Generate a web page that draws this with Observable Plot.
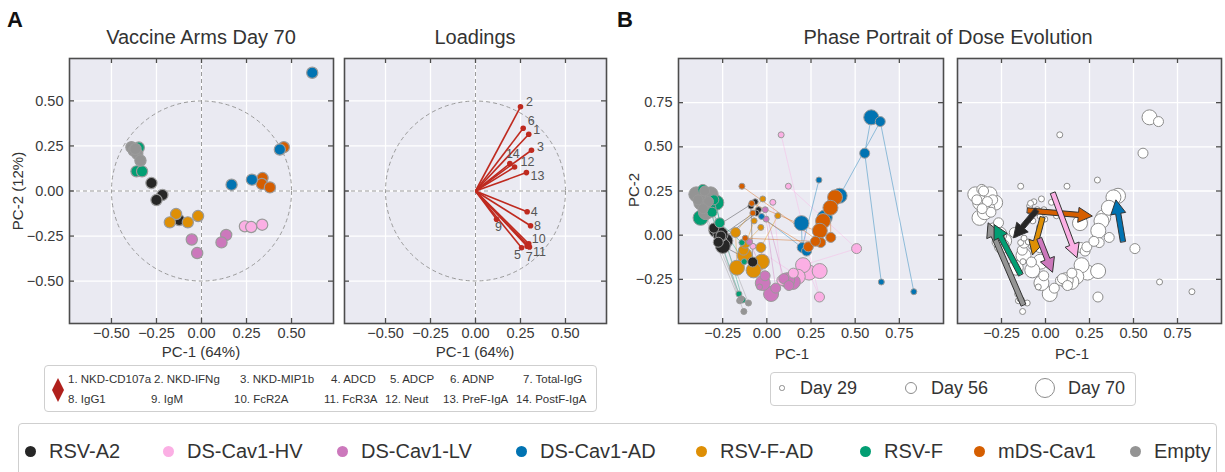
<!DOCTYPE html>
<html>
<head>
<meta charset="utf-8">
<script src="https://cdn.jsdelivr.net/npm/d3@7"></script>
<script src="https://cdn.jsdelivr.net/npm/@observablehq/plot@0.6"></script>
<style>
  html, body { margin: 0; padding: 0; background: #fff; }
  #root { position: relative; width: 1225px; height: 472px; overflow: hidden;
          font-family: "Liberation Sans", Arial, Helvetica, sans-serif; color: #333; }
  .abs { position: absolute; white-space: nowrap; line-height: 1; }
  .box { position: absolute; border: 1px solid #cfcfcf; border-radius: 4px; box-sizing: border-box; background: #fff; }
</style>
</head>
<body>
<div id="root"></div>
<script>
// ---------------- DATA ----------------
const groups = ["RSV-A2", "DS-Cav1-HV", "DS-Cav1-LV", "DS-Cav1-AD", "RSV-F-AD", "RSV-F", "mDS-Cav1", "Empty"];
const groupColors = ["#262626", "#fbafe4", "#cc78bc", "#0173b2", "#de8f05", "#029e73", "#d55e00", "#949494"];

const ticksA = [-0.5, -0.25, 0, 0.25, 0.5];
const ticksB = [-0.25, 0, 0.25, 0.5, 0.75];

// Panel A: Day 70 PCA scores [group, PC-1, PC-2]
const armsDay70 = [
  ["RSV-F", -0.348, 0.241], ["RSV-F", -0.361, 0.109], ["RSV-F", -0.330, 0.109],
  ["Empty", -0.389, 0.243], ["Empty", -0.376, 0.224], ["Empty", -0.357, 0.206], ["Empty", -0.339, 0.169], ["Empty", -0.367, 0.233],
  ["RSV-A2", -0.278, 0.044], ["RSV-A2", -0.217, -0.022], ["RSV-A2", -0.250, -0.050], ["RSV-A2", -0.124, -0.161],
  ["RSV-F-AD", -0.141, -0.128], ["RSV-F-AD", -0.176, -0.174], ["RSV-F-AD", -0.076, -0.174], ["RSV-F-AD", -0.019, -0.139],
  ["DS-Cav1-LV", -0.054, -0.269], ["DS-Cav1-LV", -0.024, -0.344], ["DS-Cav1-LV", 0.137, -0.244], ["DS-Cav1-LV", 0.111, -0.285],
  ["DS-Cav1-HV", 0.241, -0.196], ["DS-Cav1-HV", 0.276, -0.200], ["DS-Cav1-HV", 0.337, -0.187],
  ["mDS-Cav1", 0.457, 0.243], ["mDS-Cav1", 0.339, 0.072], ["mDS-Cav1", 0.335, 0.039], ["mDS-Cav1", 0.380, 0.020],
  ["DS-Cav1-AD", 0.615, 0.656], ["DS-Cav1-AD", 0.435, 0.230], ["DS-Cav1-AD", 0.167, 0.035], ["DS-Cav1-AD", 0.280, 0.063]
];

// Loadings
const loadingNames = ["NKD-CD107a", "NKD-IFNg", "NKD-MIP1b", "ADCD", "ADCP", "ADNP", "Total-IgG",
                      "IgG1", "IgM", "FcR2A", "FcR3A", "Neut", "PreF-IgA", "PostF-IgA"];
const loadingPC1 = [0.296, 0.250, 0.311, 0.287, 0.256, 0.265, 0.287, 0.306, 0.117, 0.296, 0.300, 0.217, 0.283, 0.191];
const loadingPC2 = [0.315, 0.467, 0.226, -0.115, -0.315, 0.348, -0.306, -0.193, -0.157, -0.293, -0.311, 0.133, 0.102, 0.152];
const unitCircle = [{pc1: 0, pc2: 0, radius: 0.5}];

// Panel B: per-animal scores [group, animal, PC-1, PC-2]
const phaseDay29 = [
  ["RSV-A2", "A2-1", -0.066, 0.189], ["RSV-A2", "A2-2", -0.047, 0.144], ["RSV-A2", "A2-3", -0.090, 0.165], ["RSV-A2", "A2-4", -0.060, 0.125],
  ["DS-Cav1-HV", "HV-1", 0.081, 0.568], ["DS-Cav1-HV", "HV-2", 0.122, 0.277], ["DS-Cav1-HV", "HV-3", 0.034, 0.186], ["DS-Cav1-HV", "HV-4", -0.079, -0.063],
  ["DS-Cav1-LV", "LV-1", -0.009, 0.144], ["DS-Cav1-LV", "LV-2", -0.004, 0.091], ["DS-Cav1-LV", "LV-3", -0.098, -0.038], ["DS-Cav1-LV", "LV-4", -0.041, -0.293],
  ["DS-Cav1-AD", "AD-1", 0.648, -0.265], ["DS-Cav1-AD", "AD-2", 0.832, -0.320], ["DS-Cav1-AD", "AD-3", 0.295, 0.312], ["DS-Cav1-AD", "AD-4", -0.030, 0.106],
  ["RSV-F-AD", "FAD-1", -0.023, 0.205], ["RSV-F-AD", "FAD-2", 0.062, 0.110], ["RSV-F-AD", "FAD-3", -0.072, 0.081], ["RSV-F-AD", "FAD-4", -0.034, 0.044],
  ["RSV-F", "F-1", -0.141, -0.042], ["RSV-F", "F-2", -0.128, -0.150], ["RSV-F", "F-3", -0.158, -0.333], ["RSV-F", "F-4", -0.137, -0.367],
  ["mDS-Cav1", "M-1", -0.141, 0.277], ["mDS-Cav1", "M-2", -0.085, 0.180], ["mDS-Cav1", "M-3", -0.079, 0.125], ["mDS-Cav1", "M-4", -0.122, -0.017],
  ["Empty", "E-1", -0.154, -0.371], ["Empty", "E-2", -0.104, -0.384], ["Empty", "E-3", -0.130, -0.432], ["Empty", "E-4", -0.145, -0.360]
];
const phaseDay56 = [
  ["RSV-A2", "A2-1", -0.300, 0.040], ["RSV-A2", "A2-2", -0.260, -0.005], ["RSV-A2", "A2-3", -0.080, -0.152], ["RSV-A2", "A2-4", -0.275, -0.040],
  ["DS-Cav1-HV", "HV-1", 0.298, -0.350], ["DS-Cav1-HV", "HV-2", 0.508, -0.076], ["DS-Cav1-HV", "HV-3", 0.085, -0.256], ["DS-Cav1-HV", "HV-4", 0.150, -0.215],
  ["DS-Cav1-LV", "LV-1", 0.096, -0.246], ["DS-Cav1-LV", "LV-2", 0.050, -0.300], ["DS-Cav1-LV", "LV-3", -0.010, -0.230], ["DS-Cav1-LV", "LV-4", 0.125, -0.285],
  ["DS-Cav1-AD", "AD-1", 0.554, 0.464], ["DS-Cav1-AD", "AD-2", 0.642, 0.643], ["DS-Cav1-AD", "AD-3", 0.200, -0.070], ["DS-Cav1-AD", "AD-4", 0.225, -0.090],
  ["RSV-F-AD", "FAD-1", -0.177, 0.015], ["RSV-F-AD", "FAD-2", -0.034, -0.070], ["RSV-F-AD", "FAD-3", -0.132, -0.085], ["RSV-F-AD", "FAD-4", -0.122, -0.045],
  ["RSV-F", "F-1", -0.267, 0.070], ["RSV-F", "F-2", -0.310, 0.130], ["RSV-F", "F-3", -0.362, 0.259], ["RSV-F", "F-4", -0.300, 0.200],
  ["mDS-Cav1", "M-1", 0.305, -0.042], ["mDS-Cav1", "M-2", 0.362, -0.013], ["mDS-Cav1", "M-3", 0.235, -0.066], ["mDS-Cav1", "M-4", 0.275, -0.035],
  ["Empty", "E-1", -0.352, 0.250], ["Empty", "E-2", -0.330, 0.190], ["Empty", "E-3", -0.390, 0.200], ["Empty", "E-4", -0.360, 0.150]
];
const phaseDay70 = [
  ["RSV-A2", "A2-1", -0.286, 0.028], ["RSV-A2", "A2-2", -0.235, -0.032], ["RSV-A2", "A2-3", -0.249, -0.061], ["RSV-A2", "A2-4", -0.262, 0.005],
  ["DS-Cav1-HV", "HV-1", 0.239, -0.212], ["DS-Cav1-HV", "HV-2", 0.205, -0.170], ["DS-Cav1-HV", "HV-3", 0.299, -0.203], ["DS-Cav1-HV", "HV-4", 0.175, -0.235],
  ["DS-Cav1-LV", "LV-1", 0.147, -0.265], ["DS-Cav1-LV", "LV-2", 0.024, -0.333], ["DS-Cav1-LV", "LV-3", -0.023, -0.271], ["DS-Cav1-LV", "LV-4", 0.115, -0.255],
  ["DS-Cav1-AD", "AD-1", 0.591, 0.667], ["DS-Cav1-AD", "AD-2", 0.412, 0.223], ["DS-Cav1-AD", "AD-3", 0.196, 0.068], ["DS-Cav1-AD", "AD-4", 0.328, 0.100],
  ["RSV-F-AD", "FAD-1", -0.169, -0.184], ["RSV-F-AD", "FAD-2", -0.028, -0.150], ["RSV-F-AD", "FAD-3", -0.075, -0.199], ["RSV-F-AD", "FAD-4", -0.125, -0.115],
  ["RSV-F", "F-1", -0.286, 0.184], ["RSV-F", "F-2", -0.375, 0.098], ["RSV-F", "F-3", -0.350, 0.215], ["RSV-F", "F-4", -0.330, 0.150],
  ["mDS-Cav1", "M-1", 0.386, 0.214], ["mDS-Cav1", "M-2", 0.360, 0.155], ["mDS-Cav1", "M-3", 0.318, 0.080], ["mDS-Cav1", "M-4", 0.300, 0.025],
  ["Empty", "E-1", -0.399, 0.231], ["Empty", "E-2", -0.318, 0.231], ["Empty", "E-3", -0.371, 0.184], ["Empty", "E-4", -0.345, 0.130]
];
// Group shift arrows [group, from PC-1, from PC-2, to PC-1, to PC-2]
const meanShift = [
  ["mDS-Cav1", -0.102, 0.140, 0.266, 0.108],
  ["RSV-A2", -0.050, 0.142, -0.182, -0.015],
  ["RSV-F-AD", -0.017, 0.100, -0.074, -0.112],
  ["DS-Cav1-LV", -0.035, -0.020, 0.040, -0.210],
  ["DS-Cav1-HV", 0.042, 0.238, 0.179, -0.128],
  ["Empty", -0.126, -0.394, -0.326, 0.070],
  ["RSV-F", -0.141, -0.223, -0.292, 0.060],
  ["DS-Cav1-AD", 0.440, -0.036, 0.400, 0.200]
];
const dayLabels = ["Day 29", "Day 56", "Day 70"];

// ---------------- STYLE / LAYOUT ----------------
const FONT = '"Liberation Sans", Arial, Helvetica, sans-serif';
const BG = "#eaeaf2";
const RED = "#bf2a1f";
const EDGE = "#4d4d4d";
const dayRadius = [3, 5, 7.5];
const loadingLabelNudge = [[8,-4],[9,-5],[9,-3],[7,0],[-4,7],[8,-7],[2,11],[7,0],[2,8],[10,-5],[10,5],[13,-5],[11,3],[3,-10]];

const root = document.getElementById("root");
const colorOf = g => groupColors[groups.indexOf(g)];

function label(str, x, y, o = {}) {
  const d = document.createElement("div");
  d.className = "abs";
  d.textContent = str;
  d.style.fontSize = (o.size || 15) + "px";
  d.style.fontWeight = o.weight || "normal";
  d.style.color = o.color || "#333";
  d.style.left = x + "px";
  d.style.top = y + "px";
  const tx = o.anchor === "start" ? "0" : o.anchor === "end" ? "-100%" : "-50%";
  d.style.transform = `translate(${tx}, -50%)` + (o.rotate ? ` rotate(${o.rotate}deg)` : "");
  root.appendChild(d);
  return d;
}

function panel({left, W, H, ml, mr, mt, mb, xd, yd, xt, yt, yLabels, marks}) {
  const fw = W - ml - mr, fh = H - mt - mb;
  const tx = 5 * (xd[1] - xd[0]) / fw;
  const ty = 5 * (yd[1] - yd[0]) / fh;
  const fmt = d3.format(".2f");
  const tk = {stroke: EDGE, strokeWidth: 1.3};
  const svg = Plot.plot({
    width: W, height: H,
    marginLeft: ml, marginRight: mr, marginTop: mt, marginBottom: mb,
    x: {domain: xd, ticks: xt, tickFormat: fmt, tickSize: 0, tickPadding: 4, label: null},
    y: yLabels
      ? {domain: yd, ticks: yt, tickFormat: fmt, tickSize: 0, tickPadding: 6, label: null}
      : {domain: yd, axis: null, label: null},
    color: {domain: groups, range: groupColors},
    style: {background: "transparent", fontFamily: FONT, fontSize: "14.5px", color: "#3a3a3a", overflow: "visible"},
    marks: [
      Plot.frame({fill: BG, stroke: "none"}),
      Plot.ruleX(xt, {stroke: "#fff", strokeWidth: 1.3}),
      Plot.ruleY(yt, {stroke: "#fff", strokeWidth: 1.3}),
      ...marks({fw, fh}),
      Plot.ruleX(xt, {y1: () => yd[0], y2: () => yd[0] + ty, ...tk}),
      Plot.ruleX(xt, {y1: () => yd[1], y2: () => yd[1] - ty, ...tk}),
      Plot.ruleY(yt, {x1: () => xd[0], x2: () => xd[0] + tx, ...tk}),
      Plot.ruleY(yt, {x1: () => xd[1], x2: () => xd[1] - tx, ...tk}),
      Plot.frame({stroke: EDGE, strokeWidth: 1.6, fill: "none"})
    ]
  });
  svg.style.position = "absolute";
  svg.style.left = left + "px";
  svg.style.top = "0px";
  svg.style.maxWidth = "none";
  root.appendChild(svg);
  return svg;
}

// ---------------- DERIVED TABLES ----------------
const armsTable = armsDay70.map(([group, pc1, pc2]) => ({group, pc1, pc2}));
const loadings = loadingNames.map((name, i) => ({id: String(i + 1), name, pc1: loadingPC1[i], pc2: loadingPC2[i]}));
const days = [phaseDay29, phaseDay56, phaseDay70].map(rows => rows.map(([group, animal, pc1, pc2]) => ({group, animal, pc1, pc2})));
const trajectories = groups.flatMap(g => {
  const animals = [...new Set(days[0].filter(d => d.group === g).map(d => d.animal))];
  return animals.flatMap(a => days.map(rows => rows.find(d => d.animal === a)).filter(Boolean));
});

const xdA = [-0.733, 0.733], ydA = [-0.735, 0.735];
const xdL = [-0.728, 0.728];
const xdB = [-0.5, 1.0], ydB = [-0.5, 1.0];
const H = 350, MT = 58, MB = 27;

// ---------------- PANEL A: scores ----------------
panel({
  left: 0, W: 340, H, ml: 69, mr: 7, mt: MT, mb: MB, xd: xdA, yd: ydA, xt: ticksA, yt: ticksA, yLabels: true,
  marks: ({fw}) => [
    Plot.dot(unitCircle, {x: "pc1", y: "pc2", r: unitCircle[0].radius * fw / (xdA[1] - xdA[0]),
      fill: "none", stroke: "#9a9a9a", strokeWidth: 1, strokeDasharray: "4,3"}),
    Plot.ruleX([0], {stroke: "#9a9a9a", strokeWidth: 1, strokeDasharray: "4,3"}),
    Plot.ruleY([0], {stroke: "#9a9a9a", strokeWidth: 1, strokeDasharray: "4,3"}),
    Plot.dot(armsTable, {x: "pc1", y: "pc2", r: 5.6, fill: "group", stroke: "#9a9a9a", strokeWidth: 1.2})
  ]
});

// ---------------- PANEL A: loadings ----------------
panel({
  left: 338, W: 272, H, ml: 6, mr: 4, mt: MT, mb: MB, xd: xdL, yd: ydA, xt: ticksA, yt: ticksA, yLabels: false,
  marks: ({fw}) => [
    Plot.dot(unitCircle, {x: "pc1", y: "pc2", r: unitCircle[0].radius * fw / (xdL[1] - xdL[0]),
      fill: "none", stroke: "#9a9a9a", strokeWidth: 1, strokeDasharray: "4,3"}),
    Plot.ruleX([0], {stroke: "#9a9a9a", strokeWidth: 1, strokeDasharray: "4,3"}),
    Plot.ruleY([0], {stroke: "#9a9a9a", strokeWidth: 1, strokeDasharray: "4,3"}),
    Plot.link(loadings, {x1: () => 0, y1: () => 0, x2: "pc1", y2: "pc2", stroke: RED, strokeWidth: 1.6}),
    Plot.dot(loadings, {x: "pc1", y: "pc2", r: 2.8, fill: RED}),
    ...loadings.map((d, i) => Plot.text([d], {x: "pc1", y: "pc2", text: "id",
      dx: loadingLabelNudge[i][0], dy: loadingLabelNudge[i][1], fill: "#555", fontSize: 12.5}))
  ]
});

// ---------------- PANEL B: colored phase portrait ----------------
panel({
  left: 620, W: 330, H, ml: 58, mr: 7, mt: MT, mb: MB, xd: xdB, yd: ydB, xt: ticksB, yt: ticksB, yLabels: true,
  marks: () => [
    Plot.line(trajectories, {x: "pc1", y: "pc2", z: "animal", stroke: "group", strokeWidth: 1, strokeOpacity: 0.4}),
    ...[2, 1, 0].map(k => Plot.dot(days[k], {x: "pc1", y: "pc2", r: dayRadius[k], fill: "group", stroke: "#9a9a9a", strokeWidth: 1}))
  ]
});

// ---------------- PANEL B: arrows ----------------
function arrowPolygon([group, x0, y0, x1, y1], kx, ky) {
  const X0 = x0 * kx, Y0 = y0 * ky, X1 = x1 * kx, Y1 = y1 * ky;
  const L = Math.hypot(X1 - X0, Y1 - Y0);
  const ux = (X1 - X0) / L, uy = (Y1 - Y0) / L, nx = -uy, ny = ux;
  const w = 2.6, hw = 7.5, hl = 14;
  const bx = X1 - ux * hl, by = Y1 - uy * hl;
  const pts = [
    [X0 + nx * w, Y0 + ny * w], [bx + nx * w, by + ny * w], [bx + nx * hw, by + ny * hw], [X1, Y1],
    [bx - nx * hw, by - ny * hw], [bx - nx * w, by - ny * w], [X0 - nx * w, Y0 - ny * w]
  ];
  return pts.map(([px, py]) => ({pc1: px / kx, pc2: py / ky, group}));
}
panel({
  left: 950, W: 275, H, ml: 7, mr: 4, mt: MT, mb: MB, xd: xdB, yd: ydB, xt: ticksB, yt: ticksB, yLabels: false,
  marks: ({fw, fh}) => {
    const kx = fw / (xdB[1] - xdB[0]), ky = fh / (ydB[1] - ydB[0]);
    return [
      ...[2, 1, 0].map(k => Plot.dot(days[k], {x: "pc1", y: "pc2", r: dayRadius[k], fill: "#fff", stroke: "#8c8c8c", strokeWidth: 1})),
      ...meanShift.map(a => Plot.line(arrowPolygon(a, kx, ky), {x: "pc1", y: "pc2", curve: "linear-closed",
        fill: colorOf(a[0]), stroke: "#333", strokeWidth: 1}))
    ];
  }
});

// ---------------- TEXT ----------------
label("A", 7, 20, {size: 22, weight: "bold", anchor: "start", color: "#111"});
label("B", 617, 20, {size: 22, weight: "bold", anchor: "start", color: "#111"});
label("Vaccine Arms Day 70", 201, 37, {size: 20});
label("Loadings", 475, 37, {size: 20});
label("Phase Portrait of Dose Evolution", 948, 37, {size: 20});
label("PC-2 (12%)", 17, 191, {size: 15, rotate: -90});
label("PC-1 (64%)", 201, 351, {size: 15});
label("PC-1 (64%)", 475, 351, {size: 15});
label("PC-2", 633, 190, {size: 15, rotate: -90});
label("PC-1", 792, 353, {size: 15});
label("PC-1", 1072, 353, {size: 15});

// ---------------- LOADINGS LEGEND ----------------
(function () {
  const box = document.createElement("div");
  box.className = "box";
  Object.assign(box.style, {left: "44px", top: "365px", width: "553px", height: "47px"});
  root.appendChild(box);
  const ns = "http://www.w3.org/2000/svg";
  const s = document.createElementNS(ns, "svg");
  s.setAttribute("width", 16); s.setAttribute("height", 26);
  Object.assign(s.style, {position: "absolute", left: "50px", top: "377px"});
  const p = document.createElementNS(ns, "path");
  p.setAttribute("d", "M8,1 L14,13 L8,25 L2,13 Z");
  p.setAttribute("fill", "#b0201c");
  s.appendChild(p);
  root.appendChild(s);
  const colX = [[68, 154, 240, 331, 390, 450, 523], [68, 151, 234, 324, 385, 443, 516]];
  const rowY = [380, 400];
  loadings.forEach((d, i) => {
    const r = Math.floor(i / 7), c = i % 7;
    label(`${d.id}. ${d.name}`, colX[r][c], rowY[r], {size: 11.5, anchor: "start", color: "#333"});
  });
})();

// ---------------- SIZE LEGEND ----------------
(function () {
  const box = document.createElement("div");
  box.className = "box";
  Object.assign(box.style, {left: "770px", top: "372px", width: "366px", height: "34px"});
  root.appendChild(box);
  const cx = [782, 911, 1045], tx = [800, 931, 1068], rr = [2.7, 6, 10];
  dayLabels.forEach((t, i) => {
    const c = document.createElement("div");
    Object.assign(c.style, {position: "absolute", left: (cx[i] - rr[i]) + "px", top: (388 - rr[i]) + "px",
      width: (2 * rr[i]) + "px", height: (2 * rr[i]) + "px", borderRadius: "50%",
      border: "1px solid #8c8c8c", boxSizing: "border-box", background: "#fff"});
    root.appendChild(c);
    label(t, tx[i], 388, {size: 18, anchor: "start", color: "#333"});
  });
})();

// ---------------- GROUP LEGEND ----------------
(function () {
  const box = document.createElement("div");
  box.className = "box";
  Object.assign(box.style, {left: "18px", top: "423px", width: "1199px", height: "70px"});
  root.appendChild(box);
  const dotX = [30, 168, 342, 521, 701, 865, 979, 1135];
  groups.forEach((g, i) => {
    const c = document.createElement("div");
    Object.assign(c.style, {position: "absolute", left: (dotX[i] - 5.5) + "px", top: (451 - 5.5) + "px",
      width: "11px", height: "11px", borderRadius: "50%", background: groupColors[i]});
    root.appendChild(c);
    label(g, dotX[i] + 19, 451, {size: 20, anchor: "start", color: "#333"});
  });
})();
</script>
</body>
</html>
